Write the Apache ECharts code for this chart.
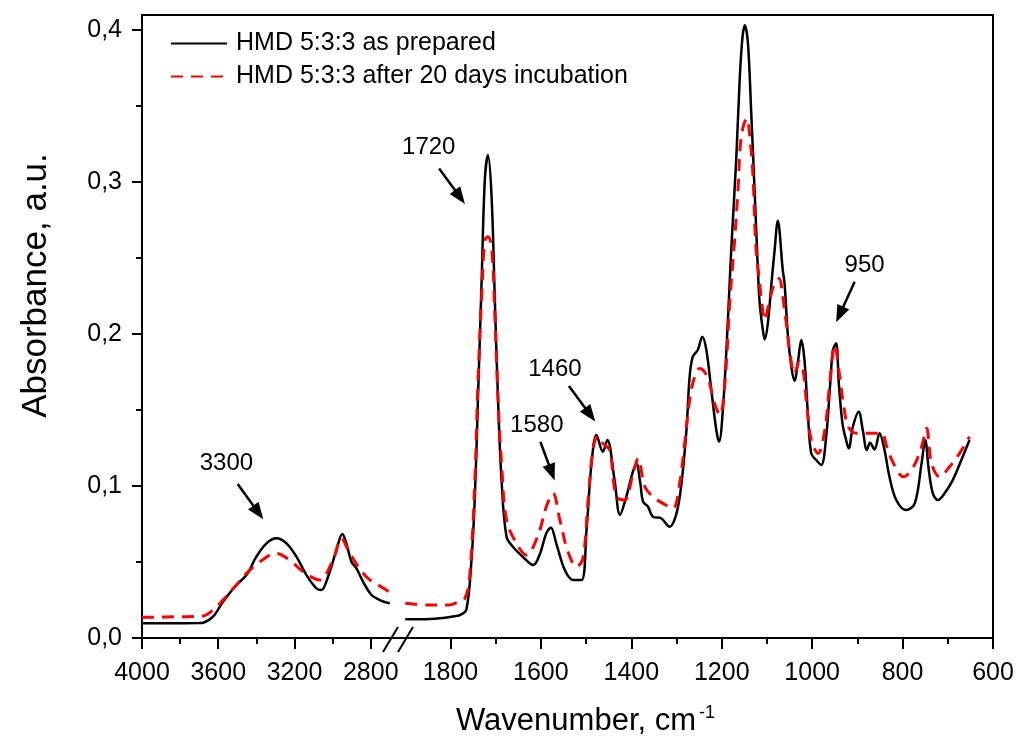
<!DOCTYPE html>
<html>
<head>
<meta charset="utf-8">
<script src="https://cdn.jsdelivr.net/npm/echarts@6/dist/echarts.min.js"></script>
<style>
  html, body { margin: 0; padding: 0; background: #fff; }
  #chart { width: 1018px; height: 740px; }
</style>
</head>
<body>
<div id="chart"></div>
<script>
// left part of the broken axis (4000 .. ~2650 cm-1)
const waveLeftPrepared = [4000, 3850, 3700, 3680, 3628, 3575, 3505, 3452, 3400, 3347, 3295, 3242, 3190, 3137, 3085, 3059, 3024, 2980, 2949, 2928, 2901, 2875, 2840, 2796, 2753, 2700];
const absLeftPrepared  = [0.0097, 0.0097, 0.0098, 0.0100, 0.0140, 0.0239, 0.0349, 0.0414, 0.0535, 0.0623, 0.0656, 0.0623, 0.0535, 0.0414, 0.0327, 0.0316, 0.0403, 0.0579, 0.0684, 0.0623, 0.0502, 0.0458, 0.0370, 0.0283, 0.0250, 0.0228];

const waveLeftIncub = [4000, 3800, 3680, 3628, 3575, 3505, 3452, 3382, 3295, 3225, 3155, 3068, 2998, 2954, 2910, 2823, 2718, 2700];
const absLeftIncub  = [0.0136, 0.0140, 0.0145, 0.0184, 0.0250, 0.0349, 0.0425, 0.0502, 0.0557, 0.0513, 0.0436, 0.0382, 0.0513, 0.0656, 0.0557, 0.0403, 0.0316, 0.0300];

// right part (~1900 .. 650 cm-1)
const waveRightPrepared = [1900, 1861, 1824, 1787, 1779, 1765, 1754, 1746, 1739, 1731, 1724, 1717, 1709, 1702, 1695, 1687, 1676, 1662, 1640, 1617, 1603, 1588, 1578, 1566, 1547, 1529, 1510, 1499, 1488, 1477, 1463, 1453, 1437, 1425, 1411, 1398, 1389, 1380, 1374, 1363, 1352, 1334, 1315, 1300, 1289, 1278, 1271, 1264, 1253, 1243, 1234, 1223, 1212, 1206, 1197, 1186, 1179, 1168, 1160, 1154, 1149, 1142, 1135, 1127, 1120, 1116, 1109, 1105, 1098, 1090, 1083, 1076, 1065, 1061, 1054, 1046, 1039, 1031, 1024, 1017, 1009, 1002, 991, 980, 969, 960, 954, 947, 941, 933, 925, 919, 910, 897, 888, 879, 872, 862, 851, 840, 829, 814, 792, 773, 758, 750, 742, 733, 722, 707, 689, 670, 652];
const absRightPrepared  = [0.0123, 0.0123, 0.0130, 0.0145, 0.0151, 0.0184, 0.0491, 0.0930, 0.1588, 0.2355, 0.3013, 0.3178, 0.2903, 0.2245, 0.1588, 0.1039, 0.0666, 0.0601, 0.0535, 0.0480, 0.0546, 0.0689, 0.0728, 0.0623, 0.0447, 0.0382, 0.0382, 0.0711, 0.1149, 0.1336, 0.1226, 0.1303, 0.1039, 0.0810, 0.0930, 0.1080, 0.1149, 0.1018, 0.0897, 0.0864, 0.0798, 0.0788, 0.0732, 0.0820, 0.1018, 0.1368, 0.1719, 0.1851, 0.1895, 0.1982, 0.1895, 0.1632, 0.1368, 0.1291, 0.1522, 0.2114, 0.2553, 0.3145, 0.3693, 0.3956, 0.4033, 0.3913, 0.3474, 0.2925, 0.2421, 0.2202, 0.2026, 0.1965, 0.2070, 0.2334, 0.2553, 0.2746, 0.2421, 0.2334, 0.2004, 0.1785, 0.1693, 0.1829, 0.1961, 0.1829, 0.1456, 0.1215, 0.1171, 0.1138, 0.1324, 0.1676, 0.1895, 0.1939, 0.1676, 0.1413, 0.1303, 0.1248, 0.1390, 0.1489, 0.1368, 0.1237, 0.1285, 0.1241, 0.1347, 0.1237, 0.1061, 0.0908, 0.0842, 0.0886, 0.1149, 0.1303, 0.1105, 0.0952, 0.0908, 0.0952, 0.1039, 0.1171, 0.1303];

const waveRightIncub = [1900, 1845, 1802, 1790, 1768, 1757, 1746, 1739, 1731, 1724, 1717, 1709, 1702, 1695, 1687, 1676, 1654, 1632, 1606, 1588, 1573, 1558, 1540, 1521, 1507, 1496, 1485, 1474, 1463, 1448, 1433, 1415, 1396, 1385, 1370, 1352, 1330, 1308, 1293, 1282, 1271, 1260, 1249, 1238, 1227, 1216, 1204, 1193, 1182, 1172, 1164, 1157, 1145, 1135, 1130, 1125, 1120, 1112, 1105, 1094, 1083, 1073, 1065, 1057, 1050, 1039, 1028, 1020, 1013, 1002, 987, 972, 961, 950, 939, 931, 920, 902, 880, 865, 846, 835, 820, 798, 776, 758, 747, 736, 718, 696, 674, 652];
const absRightIncub  = [0.0228, 0.0217, 0.0217, 0.0228, 0.0261, 0.0425, 0.1039, 0.1697, 0.2245, 0.2618, 0.2640, 0.2574, 0.2136, 0.1588, 0.1149, 0.0776, 0.0623, 0.0546, 0.0678, 0.0864, 0.0952, 0.0776, 0.0568, 0.0469, 0.0524, 0.0886, 0.1237, 0.1329, 0.1281, 0.1237, 0.0930, 0.0908, 0.1083, 0.1182, 0.0995, 0.0930, 0.0886, 0.0853, 0.1018, 0.1281, 0.1566, 0.1719, 0.1774, 0.1752, 0.1676, 0.1544, 0.1467, 0.1676, 0.2224, 0.2597, 0.2947, 0.3298, 0.3419, 0.3211, 0.2991, 0.2597, 0.2443, 0.2224, 0.2092, 0.2224, 0.2334, 0.2366, 0.2245, 0.2070, 0.1895, 0.1741, 0.1818, 0.1763, 0.1566, 0.1303, 0.1215, 0.1368, 0.1676, 0.1928, 0.1719, 0.1544, 0.1390, 0.1347, 0.1347, 0.1347, 0.1347, 0.1259, 0.1149, 0.1061, 0.1127, 0.1259, 0.1380, 0.1149, 0.1061, 0.1127, 0.1215, 0.1324];

const seriesNames = ['HMD 5:3:3 as prepared', 'HMD 5:3:3 after 20 days incubation'];

const leftTicks = [4000, 3600, 3200, 2800];
const leftMinorTicks = [3800, 3400, 3000];
const rightTicks = [1800, 1600, 1400, 1200, 1000, 800, 600];
const rightMinorTicks = [1700, 1500, 1300, 1100, 900, 700];
const yTicks = [0, 0.1, 0.2, 0.3, 0.4];
const yMinorTicks = [0.05, 0.15, 0.25, 0.35];

// peak labels: text position and arrow (from -> to), in data units
const peakNotes = [
  { text: '3300', side: 'left',  label: [3557, 0.1149], from: [3498, 0.1013], to: [3390, 0.0826] },
  { text: '1720', side: 'right', label: [1848, 0.3228], from: [1825, 0.3090], to: [1779, 0.2902] },
  { text: '1460', side: 'right', label: [1569, 0.1768], from: [1538, 0.1658], to: [1491, 0.1470] },
  { text: '1580', side: 'right', label: [1609, 0.1401], from: [1601, 0.1291], to: [1576, 0.1089] },
  { text: '950',  side: 'right', label: [884, 0.2454],  from: [906, 0.2344],  to: [939, 0.2129] }
];

const FONT = "'Liberation Sans', Arial, sans-serif";
const leftMin = 2657, leftMax = 4000;
const rightMin = 600, rightMax = 1916;
const yMax = 0.41;

function zip(xs, ys) {
  return xs.map((x, i) => [x, ys[i]]);
}

function notesFor(side) {
  let list = peakNotes.filter(n => n.side === side);
  return {
    markLine: {
      silent: true,
      animation: false,
      label: { show: false },
      lineStyle: { color: '#000', width: 2.5, type: 'solid' },
      data: list.map(n => [
        { coord: n.from, symbol: 'none' },
        { coord: n.to, symbol: 'triangle', symbolSize: [13, 17] }
      ])
    },
    markPoint: {
      silent: true,
      animation: false,
      symbol: 'rect',
      symbolSize: 1,
      itemStyle: { color: 'rgba(0,0,0,0)' },
      label: { show: true, position: 'inside', color: '#000', fontSize: 24, fontFamily: FONT, formatter: p => p.name },
      data: list.map(n => ({ name: n.text, coord: n.label }))
    }
  };
}

function tickAxis(grid, pos, min, max, values, len, inv) {
  return {
    type: 'value', gridIndex: grid, position: pos, min: min, max: max, inverse: inv,
    axisLine: { show: false },
    axisTick: { show: true, length: len, customValues: values, lineStyle: { color: '#000', width: 2 } },
    axisLabel: { show: false },
    splitLine: { show: false }
  };
}

function frameAxis(grid, pos, min, max, inv) {
  return {
    type: 'value', gridIndex: grid, position: pos, min: min, max: max, inverse: inv,
    axisLine: { show: true, onZero: false, lineStyle: { color: '#000', width: 2 } },
    axisTick: { show: false },
    axisLabel: { show: false },
    splitLine: { show: false }
  };
}

let myChart = echarts.init(document.getElementById('chart'));

let mainX = function (grid, min, max, ticks) {
  return {
    type: 'value', gridIndex: grid, position: 'bottom', min: min, max: max, inverse: true,
    axisLine: { show: true, onZero: false, lineStyle: { color: '#000', width: 2 } },
    axisTick: { show: true, length: 11, customValues: ticks, lineStyle: { color: '#000', width: 2 } },
    axisLabel: {
      show: true, customValues: ticks, color: '#000', fontSize: 25, fontFamily: FONT, margin: 23,
      formatter: v => String(v)
    },
    splitLine: { show: false }
  };
};

let option = {
  backgroundColor: '#fff',
  animation: false,
  textStyle: { fontFamily: FONT },
  title: {
    text: '{a|Wavenumber, cm}{s|-1}',
    left: 451,
    top: 699,
    textStyle: {
      fontWeight: 'normal',
      rich: {
        a: { fontSize: 31, color: '#000', fontFamily: FONT, fontWeight: 'normal' },
        s: { fontSize: 18, color: '#000', fontFamily: FONT, fontWeight: 'normal', verticalAlign: 'top', padding: [0, 0, 16, 3] }
      }
    }
  },
  legend: {
    orient: 'vertical',
    left: 165,
    top: 26,
    itemWidth: 56,
    itemHeight: 14,
    itemGap: 8,
    data: seriesNames,
    itemStyle: { opacity: 0 },
    textStyle: { fontSize: 25, color: '#000', fontFamily: FONT, padding: [0, 0, 0, 4] }
  },
  grid: [
    { left: 142, top: 15, width: 256, bottom: 102 },
    { left: 398, top: 15, right: 25, bottom: 102 }
  ],
  xAxis: [
    mainX(0, leftMin, leftMax, leftTicks),
    tickAxis(0, 'bottom', leftMin, leftMax, leftMinorTicks, 6, true),
    frameAxis(0, 'top', leftMin, leftMax, true),
    mainX(1, rightMin, rightMax, rightTicks),
    tickAxis(1, 'bottom', rightMin, rightMax, rightMinorTicks, 6, true),
    frameAxis(1, 'top', rightMin, rightMax, true)
  ],
  yAxis: [
    {
      type: 'value', gridIndex: 0, position: 'left', min: 0, max: yMax,
      name: 'Absorbance, a.u.',
      nameLocation: 'middle',
      nameGap: 88,
      nameTextStyle: { fontSize: 35, color: '#000', fontFamily: FONT, padding: [0, 0, 0, 82] },
      axisLine: { show: true, onZero: false, lineStyle: { color: '#000', width: 2 } },
      axisTick: { show: true, length: 10, customValues: yTicks, lineStyle: { color: '#000', width: 2 } },
      axisLabel: {
        show: true, customValues: yTicks, color: '#000', fontSize: 25, fontFamily: FONT, margin: 20,
        formatter: v => v.toFixed(1).replace('.', ',')
      },
      splitLine: { show: false }
    },
    tickAxis(0, 'left', 0, yMax, yMinorTicks, 6, false),
    { type: 'value', gridIndex: 1, min: 0, max: yMax, show: false },
    frameAxis(1, 'right', 0, yMax, false)
  ],
  graphic: [
    { type: 'line', shape: { x1: 383, y1: 652, x2: 398, y2: 627 }, style: { stroke: '#000', lineWidth: 2 }, z: 100 },
    { type: 'line', shape: { x1: 398, y1: 652, x2: 413, y2: 627 }, style: { stroke: '#000', lineWidth: 2 }, z: 100 }
  ],
  series: [
    Object.assign({
      name: seriesNames[0], type: 'line', xAxisIndex: 0, yAxisIndex: 0,
      data: zip(waveLeftPrepared, absLeftPrepared),
      showSymbol: false, symbol: 'none', smooth: 0.35, z: 3,
      lineStyle: { color: '#000', width: 2.5 }, itemStyle: { color: '#000' }
    }, notesFor('left')),
    {
      name: seriesNames[1], type: 'line', xAxisIndex: 0, yAxisIndex: 0,
      data: zip(waveLeftIncub, absLeftIncub),
      showSymbol: false, symbol: 'none', smooth: 0.35, z: 4,
      lineStyle: { color: '#ff0000', width: 3, type: [12, 8] }, itemStyle: { color: '#ff0000' }
    },
    Object.assign({
      name: seriesNames[0], type: 'line', xAxisIndex: 3, yAxisIndex: 2,
      data: zip(waveRightPrepared, absRightPrepared),
      showSymbol: false, symbol: 'none', smooth: 0.35, z: 3,
      lineStyle: { color: '#000', width: 2.5 }, itemStyle: { color: '#000' }
    }, notesFor('right')),
    {
      name: seriesNames[1], type: 'line', xAxisIndex: 3, yAxisIndex: 2,
      data: zip(waveRightIncub, absRightIncub),
      showSymbol: false, symbol: 'none', smooth: 0.35, z: 4,
      lineStyle: { color: '#ff0000', width: 3, type: [12, 8] }, itemStyle: { color: '#ff0000' }
    }
  ]
};

myChart.setOption(option);
</script>
</body>
</html>
